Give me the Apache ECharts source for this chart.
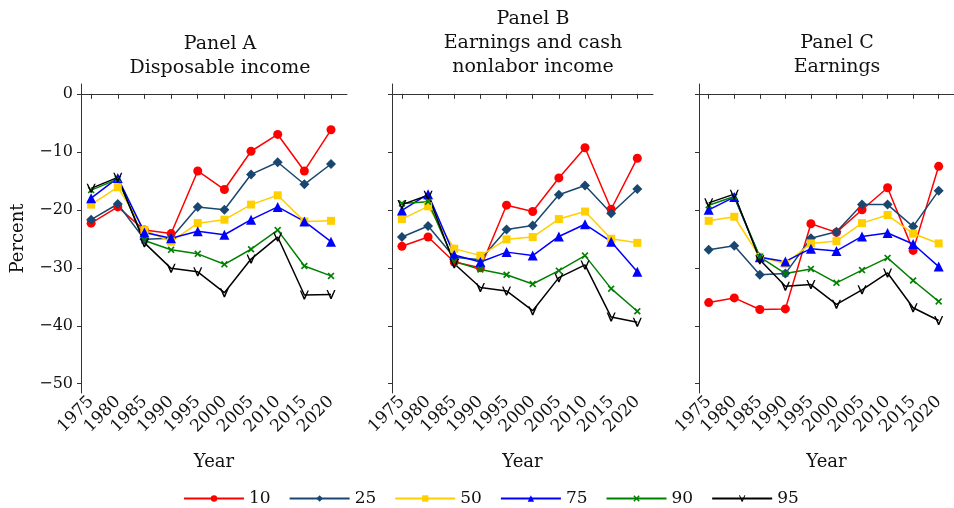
<!DOCTYPE html>
<html>
<head>
<meta charset="utf-8">
<script src="https://cdn.jsdelivr.net/npm/echarts@6/dist/echarts.min.js"></script>
<style>
    html, body {margin: 0; padding: 0; background: #fff;}
    #chart {width: 954px; height: 508px;}
</style>
</head>
<body>
<div id="chart"></div>
<script>
const chart = echarts.init(document.getElementById('chart'));

const years = [1975, 1980, 1985, 1990, 1995, 2000, 2005, 2010, 2015, 2020];
const yTicks = [0, -10, -20, -30, -40, -50];
const percentiles = ['10', '25', '50', '75', '90', '95'];
const panelTitles = [
    'Panel A\nDisposable income',
    'Panel B\nEarnings and cash\nnonlabor income',
    'Panel C\nEarnings',
];

// Panel A: disposable income
const aP10 = [-22.3, -19.5, -23.5, -24.1, -13.3, -16.5, -9.9, -7.0, -13.3, -6.2];
const aP25 = [-21.7, -19.0, -25.1, -24.9, -19.5, -20.0, -13.9, -11.8, -15.6, -12.1];
const aP50 = [-19.1, -16.1, -23.5, -25.5, -22.3, -21.7, -19.1, -17.5, -22.0, -21.9];
const aP75 = [-18.0, -14.5, -23.9, -24.9, -23.7, -24.3, -21.7, -19.5, -22.0, -25.5];
const aP90 = [-16.6, -14.7, -25.3, -26.9, -27.6, -29.4, -26.8, -23.5, -29.7, -31.4];
const aP95 = [-16.3, -14.4, -25.7, -30.1, -30.7, -34.3, -28.5, -24.7, -34.7, -34.6];

// Panel B: earnings and cash nonlabor income
const bP10 = [-26.3, -24.7, -29.0, -30.0, -19.2, -20.3, -14.5, -9.3, -19.9, -11.1];
const bP25 = [-24.7, -22.8, -28.2, -28.6, -23.4, -22.7, -17.4, -15.8, -20.6, -16.4];
const bP50 = [-21.6, -19.4, -26.7, -27.9, -25.1, -24.7, -21.6, -20.3, -25.0, -25.7];
const bP75 = [-20.1, -17.3, -27.8, -29.0, -27.3, -27.9, -24.6, -22.5, -25.5, -30.7];
const bP90 = [-18.9, -18.6, -28.9, -30.3, -31.2, -32.8, -30.5, -27.9, -33.6, -37.5];
const bP95 = [-19.1, -17.5, -29.3, -33.4, -34.0, -37.4, -31.7, -29.5, -38.5, -39.4];

// Panel C: earnings
const cP10 = [-36.0, -35.2, -37.2, -37.1, -22.4, -23.9, -20.0, -16.2, -27.0, -12.5];
const cP25 = [-26.9, -26.2, -31.2, -31.0, -24.9, -23.8, -19.1, -19.1, -22.9, -16.7];
const cP50 = [-21.9, -21.2, -28.1, -29.3, -25.8, -25.4, -22.3, -20.9, -24.1, -25.8];
const cP75 = [-20.0, -17.8, -28.2, -28.9, -26.7, -27.1, -24.6, -24.0, -25.9, -29.8];
const cP90 = [-19.2, -17.7, -28.1, -31.0, -30.2, -32.6, -30.4, -28.3, -32.2, -35.8];
const cP95 = [-18.8, -17.3, -28.6, -33.2, -32.9, -36.3, -33.8, -30.9, -36.9, -39.1];

const panels = [
    [aP10, aP25, aP50, aP75, aP90, aP95],
    [bP10, bP25, bP50, bP75, bP90, bP95],
    [cP10, cP25, cP50, cP75, cP90, cP95],
];

const font = 'DejaVu Serif';
const colors = ['#ff0000', '#1a476f', '#ffcf00', '#0000ff', '#008000', '#000000'];
const crossPath = 'path://M-3,-2 L-2,-3 L0,-1 L2,-3 L3,-2 L1,0 L3,2 L2,3 L0,1 L-2,3 L-3,2 L-1,0 Z';
const vPath = 'path://M-4,-4 L-2.8,-4 L0,2 L2.8,-4 L4,-4 L0.6,4 L-0.6,4 Z';
const symbols = ['circle', 'diamond', 'rect', 'triangle', crossPath, vPath];
const symbolSizes = [9, 10, 8, 10, 7, 9];

const grids = [
    {left: 81, top: 84, width: 266, height: 309},
    {left: 392, top: 84, width: 261, height: 309},
    {left: 699, top: 84, width: 264, height: 309},
];
const titleCenters = [215, 528, 832];
const titleTops = [27, 2, 26];

const minus = (v) => String(v).replace('-', '\u2212');

const option = {
    backgroundColor: '#fff',
    animation: false,
    title: panelTitles.map((t, i) => ({
        text: t,
        left: titleCenters[i],
        top: titleTops[i],
        textAlign: 'center',
        textStyle: {
            fontFamily: font,
            fontSize: 19,
            fontWeight: 'normal',
            color: '#111',
            lineHeight: 24,
        },
    })),
    legend: {
        data: percentiles,
        left: 178,
        top: 485,
        itemWidth: 60,
        itemHeight: 8,
        itemGap: 18,
        textStyle: {fontFamily: font, fontSize: 17, color: '#111'},
    },
    grid: grids,
    xAxis: grids.map((g, i) => ({
        type: 'value',
        gridIndex: i,
        min: 1973.1,
        max: 2023,
        name: 'Year',
        nameLocation: 'middle',
        nameGap: 60,
        nameTextStyle: {fontFamily: font, fontSize: 18, color: '#111'},
        splitLine: {show: false},
        axisLine: {lineStyle: {color: '#333'}},
        axisTick: {customValues: years, length: 5, lineStyle: {color: '#333'}},
        axisLabel: {
            customValues: years,
            rotate: 45,
            margin: 6,
            fontFamily: font,
            fontSize: 17,
            color: '#111',
            formatter: (v) => String(v),
        },
    })),
    yAxis: grids.map((g, i) => ({
        type: 'value',
        gridIndex: i,
        min: -51.6,
        max: 1.7,
        name: i === 0 ? 'Percent' : '',
        nameLocation: 'middle',
        nameGap: 54,
        nameTextStyle: {fontFamily: font, fontSize: 18, color: '#111'},
        splitLine: {show: false},
        axisLine: {show: true, lineStyle: {color: '#333'}},
        axisTick: {customValues: yTicks, length: 4, lineStyle: {color: '#333'}},
        axisLabel: {
            show: i === 0,
            customValues: yTicks,
            margin: 8,
            fontFamily: font,
            fontSize: 16,
            color: '#111',
            formatter: minus,
        },
    })),
    series: [],
};

panels.forEach((vals, p) => {
    vals.forEach((arr, k) => {
        option.series.push({
            type: 'line',
            name: percentiles[k],
            xAxisIndex: p,
            yAxisIndex: p,
            data: years.map((y, j) => [y, arr[j]]),
            symbol: symbols[k],
            symbolSize: symbolSizes[k],
            showAllSymbol: true,
            color: colors[k],
            lineStyle: {width: 1.5, color: colors[k]},
            itemStyle: {color: colors[k]},
        });
    });
});

chart.setOption(option);
</script>
</body>
</html>
